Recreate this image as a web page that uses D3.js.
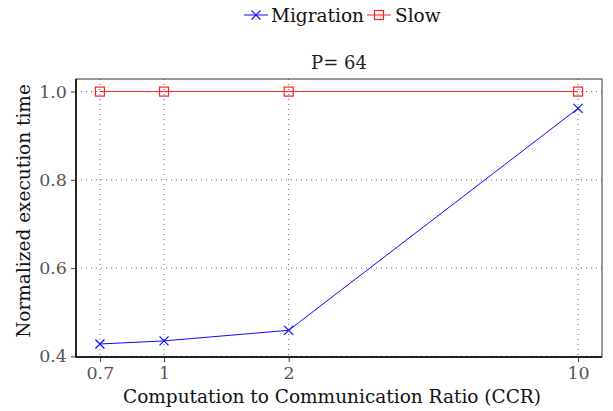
<!DOCTYPE html>
<html lang="en">
<head>
<meta charset="utf-8">
<title>P= 64</title>
<script src="https://cdn.jsdelivr.net/npm/d3@7"></script>
<style>
  body { margin: 0; background: #fff; }
  svg text { font-family: "DejaVu Serif", "Liberation Serif", "Times New Roman", serif !important; }
</style>
</head>
<body>
<script>
// data
var ccr = [0.7, 1, 2, 10];
var migration = [0.428, 0.435, 0.459, 0.962];
var slow = [1.0, 1.0, 1.0, 1.0];
var yTicks = [0.4, 0.6, 0.8, 1.0];
var seriesNames = ["Migration", "Slow"];

var w = 613, h = 411;
var pLeft = 76, pRight = 602, pTop = 79, pBottom = 357;

var svg = d3.select("body").append("svg")
  .attr("width", w).attr("height", h);

// log x scale with ~5% margin like matplotlib
var pad = Math.log(10 / 0.7) * 0.05;
var xScale = d3.scaleLog()
  .domain([0.7 / Math.exp(pad), 10 * Math.exp(pad)])
  .range([pLeft, pRight]);
var yScale = d3.scaleLinear()
  .domain([0.3985, 1.0285])
  .range([pBottom, pTop]);

//grid
svg.append("g").selectAll("line").data(ccr).enter().append("line")
  .attr("x1", function(d) { return xScale(d); })
  .attr("x2", function(d) { return xScale(d); })
  .attr("y1", pTop).attr("y2", pBottom)
  .attr("stroke", "#666").attr("stroke-width", 1)
  .attr("stroke-dasharray", "1,4");
svg.append("g").selectAll("line").data(yTicks).enter().append("line")
  .attr("x1", pLeft).attr("x2", pRight)
  .attr("y1", function(d) { return yScale(d); })
  .attr("y2", function(d) { return yScale(d); })
  .attr("stroke", "#666").attr("stroke-width", 1)
  .attr("stroke-dasharray", "1,4");

//axes
var xAxis = d3.axisBottom(xScale).tickValues(ccr).tickSize(5).tickPadding(5)
  .tickFormat(function(d) { return String(d); });
var yAxis = d3.axisLeft(yScale).tickValues(yTicks).tickSize(5).tickPadding(4)
  .tickFormat(d3.format(".1f"));

var gx = svg.append("g").attr("transform", "translate(0," + pBottom + ")").call(xAxis);
var gy = svg.append("g").attr("transform", "translate(" + pLeft + ",0)").call(yAxis);
[gx, gy].forEach(function(g) {
  g.attr("font-family", null);
  g.select(".domain").remove();
  g.selectAll(".tick line").attr("stroke", "#444");
  g.selectAll(".tick text").attr("fill", "#555").style("font-size", "17.5px");
});

//frame
svg.append("rect")
  .attr("x", pLeft).attr("y", pTop)
  .attr("width", pRight - pLeft).attr("height", pBottom - pTop)
  .attr("fill", "none").attr("stroke", "#333").attr("stroke-width", 1);
svg.append("path")
  .attr("d", "M" + pLeft + "," + pTop + "V" + pBottom + "H" + pRight)
  .attr("fill", "none").attr("stroke", "#000").attr("stroke-width", 1.5);

//lines
var line = d3.line()
  .x(function(d, i) { return xScale(ccr[i]); })
  .y(function(d) { return yScale(d); });

svg.append("path").datum(slow)
  .attr("fill", "none").attr("stroke", "#ff2020").attr("stroke-width", 1)
  .attr("d", line);
svg.append("path").datum(migration)
  .attr("fill", "none").attr("stroke", "#0a0aff").attr("stroke-width", 1)
  .attr("d", line);

function square(g, x, y) {
  g.append("rect").attr("x", x - 4.5).attr("y", y - 4.5)
    .attr("width", 9).attr("height", 9)
    .attr("fill", "none").attr("stroke", "#ff2020").attr("stroke-width", 1.2);
}
function cross(g, x, y) {
  g.append("path")
    .attr("d", "M" + (x - 4.5) + "," + (y - 4.5) + "L" + (x + 4.5) + "," + (y + 4.5) +
               "M" + (x - 4.5) + "," + (y + 4.5) + "L" + (x + 4.5) + "," + (y - 4.5))
    .attr("stroke", "#0a0aff").attr("stroke-width", 1.2);
}

var marks = svg.append("g");
slow.forEach(function(d, i) { square(marks, xScale(ccr[i]), yScale(d)); });
migration.forEach(function(d, i) { cross(marks, xScale(ccr[i]), yScale(d)); });

//title and labels
svg.append("text").attr("x", (pLeft + pRight) / 2).attr("y", 69)
  .attr("text-anchor", "middle").style("font-size", "18px").attr("fill", "#222")
  .text("P= 64");
svg.append("text").attr("x", (pLeft + pRight) / 2 - 7).attr("y", 403)
  .attr("text-anchor", "middle").style("font-size", "18.5px").attr("fill", "#111")
  .text("Computation to Communication Ratio (CCR)");
svg.append("text")
  .attr("transform", "translate(30,211) rotate(-90)")
  .attr("text-anchor", "middle").style("font-size", "18.5px").attr("fill", "#111")
  .text("Normalized execution time");

//legend
var leg = svg.append("g");
var lx = 244, ly = 15;
leg.append("line").attr("x1", lx).attr("x2", lx + 24).attr("y1", ly).attr("y2", ly)
  .attr("stroke", "#0a0aff");
cross(leg, lx + 12, ly);
leg.append("text").attr("x", lx + 27).attr("y", ly + 7).style("font-size", "18.5px")
  .attr("fill", "#111").text(seriesNames[0]);
var lx2 = 367;
leg.append("line").attr("x1", lx2).attr("x2", lx2 + 24).attr("y1", ly).attr("y2", ly)
  .attr("stroke", "#ff2020");
square(leg, lx2 + 12, ly);
leg.append("text").attr("x", lx2 + 28).attr("y", ly + 7).style("font-size", "18.5px")
  .attr("fill", "#111").text(seriesNames[1]);
</script>
</body>
</html>
